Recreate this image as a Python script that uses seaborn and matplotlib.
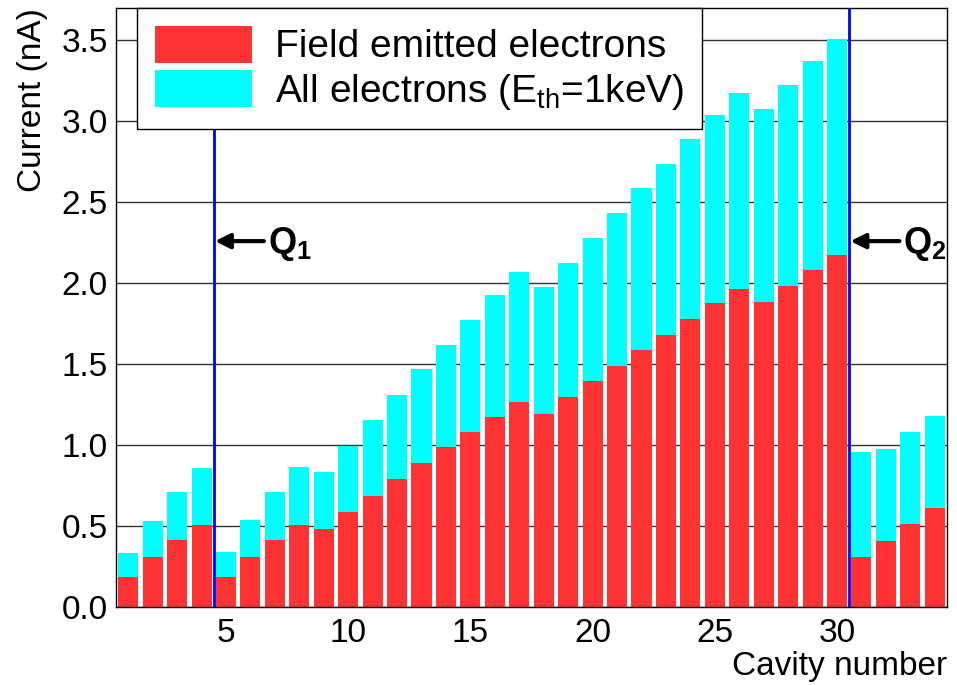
import matplotlib
matplotlib.use("Agg")
import matplotlib.pyplot as plt
import seaborn as sns
import pandas as pd
from matplotlib.ticker import MultipleLocator

cavity = list(range(1, 35))
field_emitted = [0.183, 0.307, 0.415, 0.509, 0.183, 0.307, 0.415, 0.509, 0.480, 0.588,
                 0.684, 0.788, 0.891, 0.988, 1.083, 1.176, 1.264, 1.194, 1.297, 1.394,
                 1.489, 1.586, 1.683, 1.780, 1.875, 1.963, 1.887, 1.982, 2.079, 2.174,
                 0.308, 0.405, 0.512, 0.611]
all_electrons = [0.336, 0.530, 0.712, 0.858, 0.342, 0.536, 0.712, 0.864, 0.831, 0.994,
                 1.153, 1.310, 1.468, 1.620, 1.775, 1.930, 2.068, 1.975, 2.124, 2.279,
                 2.434, 2.588, 2.737, 2.890, 3.040, 3.175, 3.077, 3.227, 3.374, 3.511,
                 0.955, 0.974, 1.079, 1.180]
label_fe = "Field emitted electrons"
label_all = r"All electrons (E$_{\mathregular{th}}$=1keV)"
q_positions = [4.5, 30.5]
q_labels = [r"$\mathbf{Q_1}$", r"$\mathbf{Q_2}$"]

sns.set_style("white")
plt.rcParams["font.family"] = ["Liberation Sans", "DejaVu Sans"]
plt.rcParams["mathtext.fontset"] = "custom"
plt.rcParams["mathtext.rm"] = "Liberation Sans"
plt.rcParams["mathtext.bf"] = "Liberation Sans:bold"
plt.rcParams["mathtext.it"] = "Liberation Sans:italic"
for k in ["text.color", "axes.labelcolor", "xtick.color", "ytick.color"]:
    plt.rcParams[k] = "black"

df = pd.DataFrame({"cavity": cavity, "fe": field_emitted, "all": all_electrons})

fig = plt.figure(figsize=(9.57, 6.85), dpi=100)
ax = fig.add_axes([116/957, 1-607/685, (947-116)/957, (607-8)/685])

sns.barplot(data=df, x="cavity", y="all", native_scale=True, color="#00FFFF",
            saturation=1, width=0.82, linewidth=0, ax=ax, label=label_all, zorder=2)
sns.barplot(data=df, x="cavity", y="fe", native_scale=True, color="#FF3333",
            saturation=1, width=0.82, linewidth=0, ax=ax, label=label_fe, zorder=2)

ax.set_xlim(0.5, 34.5)
ax.set_ylim(0, 3.7)
ax.yaxis.set_major_locator(MultipleLocator(0.5))
ax.yaxis.set_minor_locator(MultipleLocator(0.1))
ax.yaxis.set_major_formatter(matplotlib.ticker.FormatStrFormatter("%.1f"))
ax.set_xticks([5, 10, 15, 20, 25, 30])
ax.tick_params(axis="x", length=0, labelsize=24, pad=8)
ax.tick_params(axis="y", which="major", direction="in", length=20, width=1, labelsize=24, pad=6)
ax.tick_params(axis="y", which="minor", direction="in", length=11, width=1)
ax.grid(axis="y", which="major", color="#333333", linewidth=1)
ax.set_axisbelow(True)
for s in ax.spines.values():
    s.set_visible(True)
    s.set_color("black")
    s.set_linewidth(1)

ax.set_xlabel("Cavity number", fontsize=24, loc="right")
ax.xaxis.set_label_coords(1.0, -0.074)
ax.set_ylabel("Current (nA)", fontsize=24, loc="top")
ax.yaxis.set_label_coords(-0.082, 1.0)

for xq in q_positions:
    ax.axvline(xq, color="#0000FF", linewidth=2, zorder=3)

y_arrow = 2.26
ax.annotate("", xy=(q_positions[0] + 0.05, y_arrow), xytext=(6.55, y_arrow),
            arrowprops=dict(arrowstyle="-|>", color="black", lw=3, mutation_scale=22,
                            shrinkA=0, shrinkB=0), zorder=4)
ax.text(6.7, y_arrow - 0.02, q_labels[0], fontsize=26, ha="left", va="center", zorder=4)
ax.annotate("", xy=(q_positions[1] + 0.05, y_arrow), xytext=(32.55, y_arrow),
            arrowprops=dict(arrowstyle="-|>", color="black", lw=3, mutation_scale=22,
                            shrinkA=0, shrinkB=0), zorder=4)
ax.text(32.68, y_arrow - 0.02, q_labels[1], fontsize=26, ha="left", va="center", zorder=4)

handles, labels = ax.get_legend_handles_labels()
order = [labels.index(label_fe), labels.index(label_all)]
leg = ax.legend([handles[i] for i in order], [labels[i] for i in order],
                loc="upper left", bbox_to_anchor=(0.0253, 1.0), fontsize=28,
                frameon=True, fancybox=False, framealpha=1, edgecolor="black",
                handlelength=2.5, handleheight=1.1, handletextpad=0.6,
                borderpad=0.45, labelspacing=0.12, borderaxespad=0)
leg.get_frame().set_linewidth(1)
leg.set_zorder(5)

fig.savefig("out.png", dpi=100)
